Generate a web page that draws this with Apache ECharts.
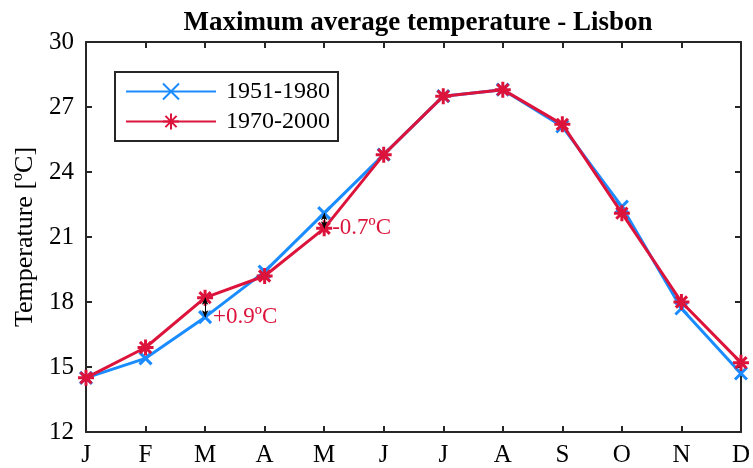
<!DOCTYPE html>
<html>
<head>
<meta charset="utf-8">
<script src="https://cdn.jsdelivr.net/npm/echarts@6/dist/echarts.min.js"></script>
<style>
html, body { margin: 0; padding: 0; background: #fff; }
#chart { width: 753px; height: 468px; }
</style>
</head>
<body>
<div id="chart"></div>
<script>
// months and the two climate normals (ºC)
var months = ['J', 'F', 'M', 'A', 'M', 'J', 'J', 'A', 'S', 'O', 'N', 'D'];
var temp_1951_1980 = [14.5, 15.4, 17.3, 19.4, 22.1, 24.8, 27.5, 27.8, 26.1, 22.4, 17.7, 14.7];
var temp_1970_2000 = [14.5, 15.9, 18.2, 19.2, 21.4, 24.8, 27.5, 27.8, 26.2, 22.1, 18.0, 15.2];
var y_ticks = [12, 15, 18, 21, 24, 27, 30];
// differences marked on the chart: [month index, old value, new value, text]
var diff_notes = [
    [2, 17.3, 18.2, '+0.9ºC'],
    [4, 22.1, 21.4, '-0.7ºC']
];

var FONT = '"Liberation Serif", "Times New Roman", serif';
var BLUE = '#1a8cff';
var RED = '#dc143c';
var AXIS = '#262626';
var CROSS = 'path://M0,0L10,10M0,10L10,0';
var STAR = 'path://M5,0L5,10M0,5L10,5M1.5,1.5L8.5,8.5M1.5,8.5L8.5,1.5';

var chart = echarts.init(document.getElementById('chart'));

var axisCommon = {
    axisLine: { show: true, onZero: false, lineStyle: { color: AXIS, width: 2 } },
    axisTick: { show: true, inside: true, length: 6, lineStyle: { color: AXIS, width: 2 } },
    splitLine: { show: false }
};

var option = {
    animation: false,
    title: {
        text: 'Maximum average temperature - Lisbon',
        left: 413,
        textAlign: 'center',
        top: 5,
        textStyle: { fontFamily: FONT, fontSize: 27, fontWeight: 'bold', color: '#000' }
    },
    legend: {
        data: ['1951-1980', '1970-2000'],
        orient: 'vertical',
        left: 115,
        top: 72,
        padding: [7, 8, 7, 10],
        itemWidth: 90,
        itemHeight: 20,
        itemGap: 5,
        borderColor: AXIS,
        borderWidth: 2,
        borderRadius: 0,
        textStyle: { fontFamily: FONT, fontSize: 24, lineHeight: 25, color: '#000', padding: [0, 0, 0, 5] }
    },
    grid: { left: 86, right: 1, top: 42, bottom: 36 },
    xAxis: [
        Object.assign({
            type: 'category',
            data: months,
            boundaryGap: false,
            position: 'bottom',
            axisLabel: { fontFamily: FONT, fontSize: 25, color: '#000', margin: 11, interval: 0 }
        }, axisCommon),
        Object.assign({
            type: 'category',
            data: months,
            boundaryGap: false,
            position: 'top',
            axisLabel: { show: false }
        }, axisCommon)
    ],
    yAxis: [
        Object.assign({
            type: 'value',
            min: y_ticks[0],
            max: y_ticks[y_ticks.length - 1],
            interval: 3,
            position: 'left',
            name: 'Temperature [ºC]',
            nameLocation: 'middle',
            nameGap: 48,
            nameTextStyle: { fontFamily: FONT, fontSize: 26, color: '#000' },
            axisLabel: { fontFamily: FONT, fontSize: 25, color: '#000', margin: 12 }
        }, axisCommon),
        Object.assign({
            type: 'value',
            min: y_ticks[0],
            max: y_ticks[y_ticks.length - 1],
            interval: 3,
            position: 'right',
            axisLabel: { show: false }
        }, axisCommon)
    ],
    series: [
        {
            name: '1951-1980',
            type: 'line',
            data: temp_1951_1980,
            symbol: CROSS,
            symbolSize: 12,
            showAllSymbol: true,
            lineStyle: { color: BLUE, width: 3 },
            itemStyle: { color: 'none', borderColor: BLUE, borderWidth: 3 },
            z: 2
        },
        {
            name: '1970-2000',
            type: 'line',
            data: temp_1970_2000,
            symbol: STAR,
            symbolSize: 16,
            showAllSymbol: true,
            lineStyle: { color: RED, width: 3 },
            itemStyle: { color: 'none', borderColor: RED, borderWidth: 3 },
            z: 3,
            markLine: {
                silent: true,
                symbol: ['arrow', 'arrow'],
                symbolSize: [5, 7],
                lineStyle: { color: '#000', width: 1, type: 'solid' },
                label: { show: false },
                data: diff_notes.map(function (d) {
                    return [{ coord: [d[0], d[1]] }, { coord: [d[0], d[2]] }];
                })
            },
            markPoint: {
                silent: true,
                symbol: 'circle',
                symbolSize: 0,
                data: diff_notes.map(function (d) {
                    return {
                        coord: [d[0], Math.min(d[1], d[2])],
                        label: {
                            show: true,
                            position: 'right',
                            distance: 0,
                            offset: [8, 0],
                            formatter: d[3],
                            fontFamily: FONT,
                            fontSize: 23,
                            color: RED
                        }
                    };
                })
            }
        }
    ]
};
chart.setOption(option);
</script>
</body>
</html>
